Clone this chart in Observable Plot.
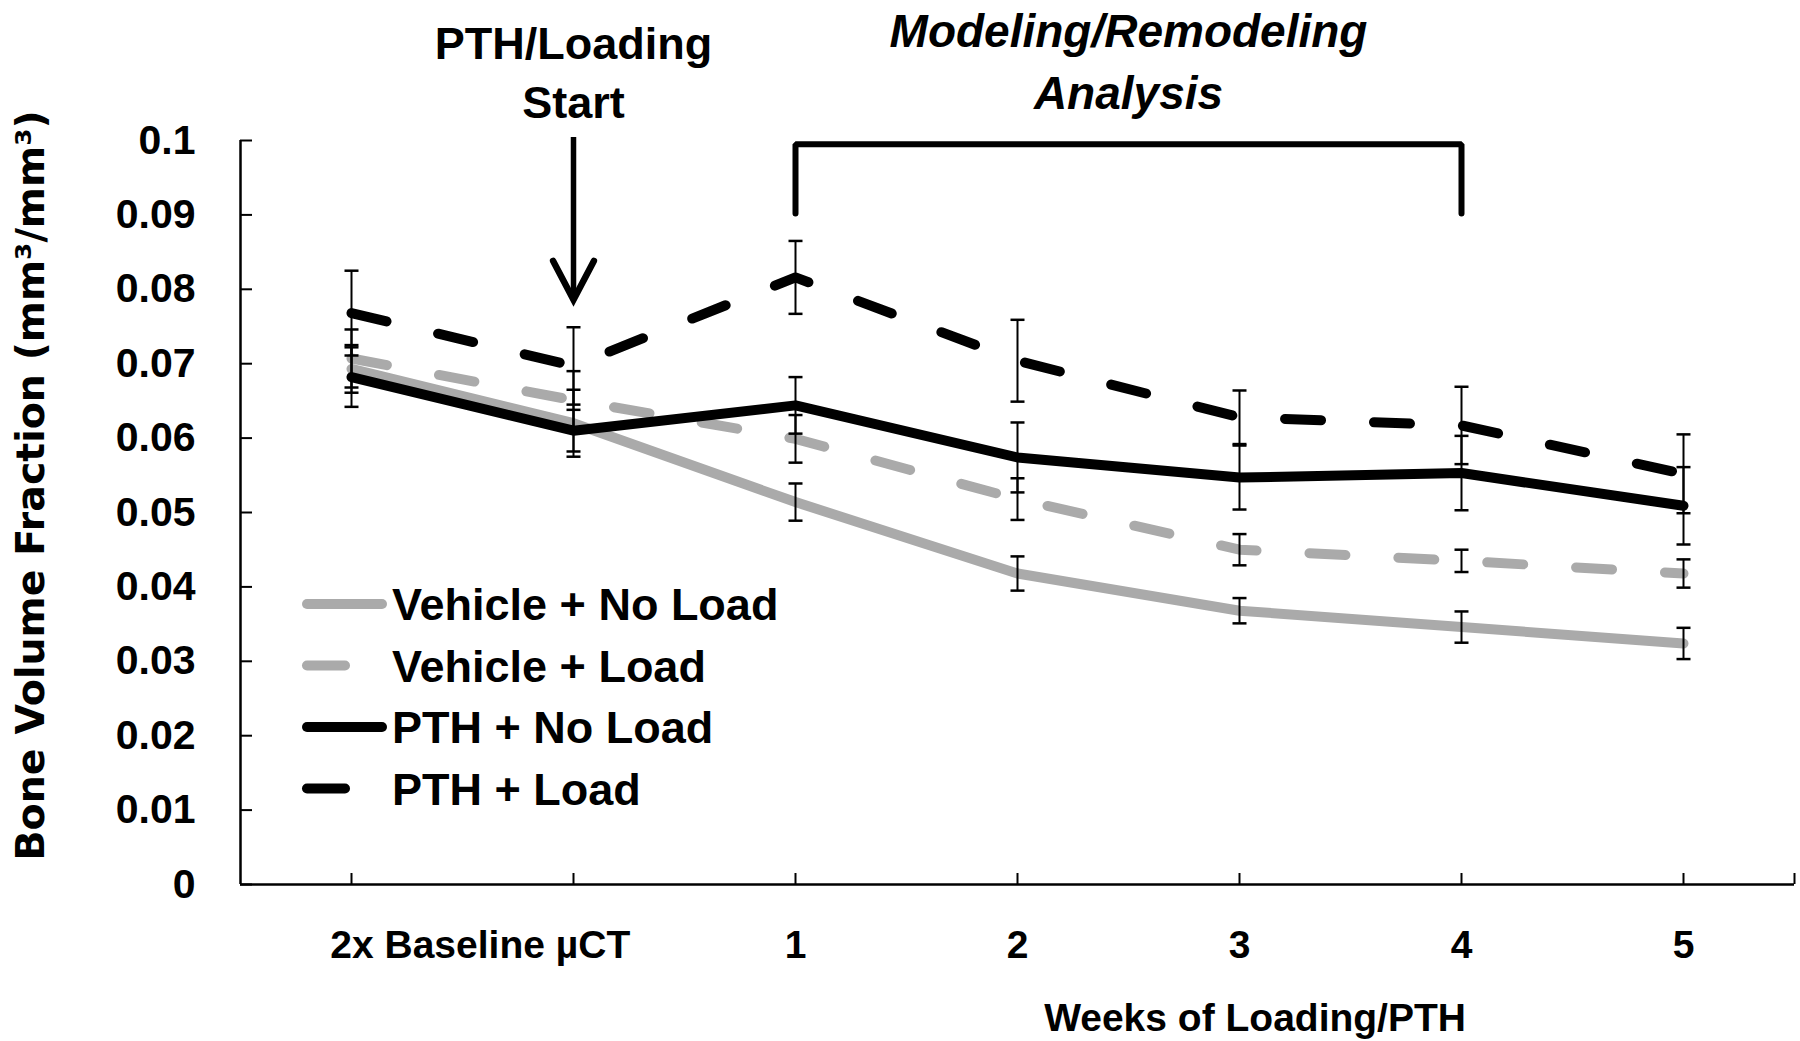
<!DOCTYPE html>
<html><head><meta charset="utf-8">
<script src="https://cdn.jsdelivr.net/npm/d3@7"></script>
<script src="https://cdn.jsdelivr.net/npm/@observablehq/plot@0.6"></script>
<style>
html,body{margin:0;padding:0;background:#fff;}
#chart{width:1800px;height:1041px;}
</style></head><body><div id="chart"></div>
<script>
// ---- data ----
const categories = ["Baseline scan 1", "Baseline scan 2", "Week 1", "Week 2", "Week 3", "Week 4", "Week 5"];
const xTickLabels = ["", "", "1", "2", "3", "4", "5"];
const baselineLabel = "2x Baseline µCT";
const xTitle = "Weeks of Loading/PTH";
const yTitle = "Bone Volume Fraction (mm³/mm³)";
const yTicks = [0, 0.01, 0.02, 0.03, 0.04, 0.05, 0.06, 0.07, 0.08, 0.09, 0.1];
const yTickLabels = ["0", "0.01", "0.02", "0.03", "0.04", "0.05", "0.06", "0.07", "0.08", "0.09", "0.1"];
const seriesNames = ["Vehicle + No Load", "Vehicle + Load", "PTH + No Load", "PTH + Load"];
const seriesColors = ["#aaaaaa", "#aaaaaa", "#000000", "#000000"];
const seriesDashed = [false, true, false, true];

const vehicleNoLoad   = [0.0693, 0.0620, 0.0514, 0.0418, 0.0368, 0.0346, 0.0324];
const vehicleNoLoadSE = [0.0032, 0.0045, 0.0025, 0.0023, 0.0017, 0.0021, 0.0021];
const vehicleLoad     = [0.0707, 0.0651, 0.0599, 0.0518, 0.0450, 0.0435, 0.0418];
const vehicleLoadSE   = [0.0039, 0.0039, 0.0032, 0.0028, 0.0021, 0.0015, 0.0019];
const pthNoLoad       = [0.0682, 0.0610, 0.0644, 0.0574, 0.0547, 0.0553, 0.0509];
const pthNoLoadSE     = [0.0040, 0.0028, 0.0038, 0.0047, 0.0043, 0.0050, 0.0052];
const pthLoad         = [0.0768, 0.0697, 0.0816, 0.0704, 0.0628, 0.0617, 0.0552];
const pthLoadSE       = [0.0057, 0.0052, 0.0049, 0.0055, 0.0036, 0.0052, 0.0053];

// annotations
const startLabel = "PTH/Loading\nStart";
const startIndex = 1;
const startArrowY = [0.1004, 0.0786];
const analysisLabel = "Modeling/Remodeling\nAnalysis";
const bracketIndex = [2, 5];
const bracketY = [0.0902, 0.0995];
const baselineLabelX = 0.58;
const xTitleX = 4.07;

// ---- build table ----
const seriesValues = [vehicleNoLoad, vehicleLoad, pthNoLoad, pthLoad];
const seriesSE = [vehicleNoLoadSE, vehicleLoadSE, pthNoLoadSE, pthLoadSE];
const rows = [];
seriesNames.forEach((name, k) => {
  categories.forEach((c, i) => {
    rows.push({series: name, k, i, category: c, value: seriesValues[k][i], se: seriesSE[k][i]});
  });
});

const FONT = "'Liberation Sans', Arial, sans-serif";
const capSymbol = {draw(ctx, size) { const w = Math.sqrt(size); ctx.moveTo(-w / 2, 0); ctx.lineTo(w / 2, 0); }};
const arrowHeadSymbol = {draw(ctx, size) { const s = Math.sqrt(size); ctx.moveTo(-0.5 * s, -0.95 * s); ctx.lineTo(0, 0); ctx.lineTo(0.5 * s, -0.95 * s); }};

const marks = [];
// series lines
seriesNames.forEach((name, k) => {
  marks.push(Plot.line(rows.filter(d => d.k === k), {
    x: "i", y: "value",
    stroke: seriesColors[k], strokeWidth: 10,
    strokeLinejoin: "round", strokeLinecap: "round",
    strokeDasharray: seriesDashed[k] ? "36,53" : null
  }));
});
// error bars
marks.push(Plot.ruleX(rows, {x: "i", y1: d => d.value - d.se, y2: d => d.value + d.se, stroke: "black", strokeWidth: 2}));
marks.push(Plot.dot(rows, {x: "i", y: d => d.value + d.se, symbol: capSymbol, r: 7.9, stroke: "black", strokeWidth: 2.5, fill: "none"}));
marks.push(Plot.dot(rows, {x: "i", y: d => d.value - d.se, symbol: capSymbol, r: 7.9, stroke: "black", strokeWidth: 2.5, fill: "none"}));

// axes
marks.push(Plot.ruleX([-0.5], {y1: 0, y2: 0.1, stroke: "black", strokeWidth: 2.5}));
marks.push(Plot.ruleY([0], {stroke: "black", strokeWidth: 2.5}));
marks.push(Plot.axisY({
  ticks: yTicks, tickSize: -12, tickPadding: 57, strokeWidth: 2,
  tickFormat: d => yTickLabels[yTicks.indexOf(d)],
  fontSize: 41, fontWeight: "bold", fontFamily: FONT, fill: "black", label: null
}));
marks.push(Plot.axisX({
  ticks: [0, 1, 2, 3, 4, 5, 6, 6.5], tickSize: -11, tickPadding: 57, strokeWidth: 2,
  tickFormat: d => (Number.isInteger(d) ? xTickLabels[d] : ""),
  fontSize: 39, fontWeight: "bold", fontFamily: FONT, fill: "black", label: null
}));
marks.push(Plot.text([{label: baselineLabel, x: baselineLabelX}], {
  x: "x", y: () => 0, text: "label", dy: 46, lineAnchor: "top",
  fontSize: 39, fontWeight: "bold", fontFamily: FONT, fill: "black"
}));
marks.push(Plot.text([{label: xTitle, x: xTitleX}], {
  x: "x", y: () => 0, text: "label", dy: 146, lineAnchor: "bottom",
  fontSize: 39, fontWeight: "bold", fontFamily: FONT, fill: "black"
}));
marks.push(Plot.text([yTitle], {
  frameAnchor: "left", rotate: -90, dx: -209, dy: -27, textAnchor: "middle", lineAnchor: "middle",
  fontSize: 39.5, fontWeight: "bold", fontFamily: "'DejaVu Sans', Verdana, sans-serif", fill: "black"
}));

// annotations: arrow (shaft + head)
marks.push(Plot.ruleX([{x: startIndex}], {
  x: "x", y1: () => startArrowY[0], y2: () => startArrowY[1] + 0.0003,
  stroke: "black", strokeWidth: 5.5
}));
marks.push(Plot.dot([{x: startIndex}], {
  x: "x", y: () => startArrowY[1], symbol: arrowHeadSymbol, r: 23,
  stroke: "black", strokeWidth: 6.5, fill: "none", strokeLinejoin: "miter", strokeLinecap: "round"
}));
marks.push(Plot.text([{label: startLabel, x: startIndex}], {
  x: "x", y: () => 0.1, text: "label", dy: -23, lineAnchor: "bottom", lineHeight: 1.31,
  fontSize: 45, fontWeight: "bold", fontFamily: FONT, fill: "black"
}));
marks.push(Plot.line([
  {x: bracketIndex[0], y: bracketY[0]}, {x: bracketIndex[0], y: bracketY[1]},
  {x: bracketIndex[1], y: bracketY[1]}, {x: bracketIndex[1], y: bracketY[0]}
], {x: "x", y: "y", stroke: "black", strokeWidth: 6, strokeLinejoin: "miter"}));
marks.push(Plot.text([{label: analysisLabel, x: (bracketIndex[0] + bracketIndex[1]) / 2}], {
  x: "x", y: () => 0.1, text: "label", dy: -32, lineAnchor: "bottom", lineHeight: 1.33,
  fontSize: 46, fontWeight: "bold", fontStyle: "italic", fontFamily: FONT, fill: "black"
}));

const svg = Plot.plot({
  width: 1800, height: 1041,
  marginTop: 140, marginBottom: 157, marginLeft: 240, marginRight: 6,
  x: {type: "linear", domain: [-0.5, 6.5], axis: null},
  y: {domain: [0, 0.1], axis: null},
  style: {background: "white", overflow: "visible"},
  marks
});

// legend (inside the plotting area, lower left)
const lg = d3.select(svg).append("g").attr("text-anchor", "start");
const legendX = 302, legendTextX = 392, legendY0 = 604, legendStep = 61.5;
seriesNames.forEach((name, k) => {
  const cy = legendY0 + k * legendStep;
  lg.append("line")
    .attr("x1", legendX + 5).attr("x2", (seriesDashed[k] ? 350 : 387) - 5)
    .attr("y1", cy).attr("y2", cy)
    .attr("stroke", seriesColors[k]).attr("stroke-width", 10).attr("stroke-linecap", "round");
  lg.append("text")
    .attr("x", legendTextX).attr("y", cy).attr("dy", "0.36em")
    .attr("text-anchor", "start")
    .attr("font-family", FONT).attr("font-size", 45).attr("font-weight", "bold").attr("fill", "black")
    .text(name);
});

document.getElementById("chart").appendChild(svg);
</script>
</body></html>
